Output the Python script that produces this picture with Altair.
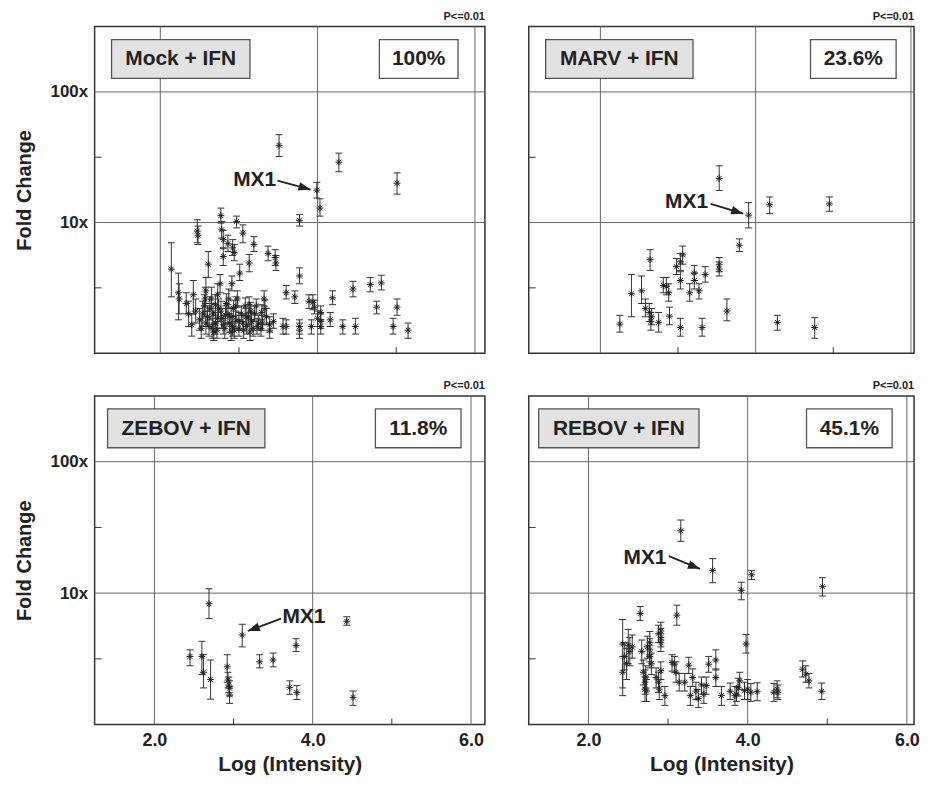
import altair as alt
import pandas as pd

FONT = "Liberation Sans"
DARK = "#222222"
GRID = "#666666"

# ---------------- data ----------------
# Mock + IFN
mock_x = [3.51, 4.27, 5.01, 3.99, 4.03, 3.77, 2.77, 2.97, 3.05, 2.47, 2.48, 2.78, 2.80, 3.19, 2.92, 2.94,
          2.86, 2.80, 3.37, 3.46, 3.47, 3.13, 2.61, 3.01, 3.77, 2.91, 2.14, 2.23, 2.24, 2.33, 2.42, 3.60,
          3.71, 3.89, 3.94, 3.96, 4.04, 4.00, 4.16, 4.19, 4.45, 4.67, 4.81, 4.75, 5.01, 4.96, 5.15, 4.48,
          4.32, 4.04, 4.04, 3.92, 3.77, 3.77, 3.56, 3.60, 3.39, 3.39, 3.32, 3.22, 3.13, 3.29, 3.16,
          2.45, 2.50, 2.52, 2.56, 2.60, 2.62, 2.65, 2.67, 2.70, 2.72, 2.74, 2.76, 2.78, 2.82, 2.84, 2.86,
          2.88, 2.90, 2.93, 2.96, 2.98, 3.00, 3.03, 3.05, 3.08, 3.10, 3.12, 3.18, 3.20, 3.25, 3.28, 3.35,
          3.44, 2.58, 2.68, 2.94, 3.14,
          2.36, 2.40, 2.54, 2.58, 2.63, 2.66, 2.70, 2.73, 2.77, 2.80, 2.83, 2.87, 2.90, 2.92, 2.96, 3.00,
          3.06, 3.09, 3.15, 3.23, 3.30, 3.33, 2.57, 2.73]
mock_y = [39, 29, 20, 17.7, 12.9, 10.4, 11.3, 10.2, 8.3, 8.6, 8.0, 8.8, 7.4, 6.8, 6.4, 5.9,
          6.9, 5.5, 5.8, 5.4, 4.9, 4.9, 4.8, 4.1, 3.9, 3.4, 4.4, 2.9, 2.6, 2.4, 2.8, 2.9,
          2.7, 2.5, 2.45, 2.25, 2.05, 1.85, 1.8, 2.65, 3.1, 3.35, 3.45, 2.25, 2.25, 1.6, 1.5, 1.6,
          1.6, 1.6, 1.75, 1.6, 1.6, 1.5, 1.6, 1.6, 1.65, 1.5, 2.6, 2.3, 2.35, 2.05, 1.75,
          2.1, 1.8, 1.55, 2.3, 1.9, 1.6, 2.6, 2.0, 1.7, 1.5, 2.2, 3.4, 1.85, 1.55, 2.4, 2.0,
          1.7, 1.45, 2.2, 1.8, 2.6, 1.55, 2.0, 1.7, 2.3, 1.6, 1.9, 1.55, 2.0, 1.7, 1.55, 1.9,
          1.75, 3.0, 1.45, 1.5, 1.45,
          2.0, 1.65, 2.0, 1.7, 2.2, 1.55, 2.35, 1.85, 2.1, 1.65, 1.95, 2.6, 1.9, 1.6, 2.3, 1.75,
          1.5, 1.9, 2.1, 1.6, 1.7, 2.2, 2.6, 2.8]
mock_lo = [32, 24.5, 16.5, 15.4, 11.2, 9.4, 9.9, 9.1, 7.0, 7.0, 6.8, 7.6, 6.3, 6.0, 5.6, 5.1,
           6.0, 4.7, 5.1, 4.7, 4.3, 4.2, 3.8, 3.6, 3.4, 3.0, 2.7, 1.8, 2.0, 2.0, 2.0, 2.6,
           2.4, 2.2, 2.15, 2.0, 1.8, 1.6, 1.6, 2.35, 2.7, 2.95, 3.05, 2.0, 1.95, 1.4, 1.3, 1.4,
           1.4, 1.4, 1.55, 1.4, 1.4, 1.3, 1.4, 1.4, 1.45, 1.3, 2.3, 2.0, 2.05, 1.8, 1.5,
           1.7, 1.5, 1.3, 1.9, 1.6, 1.35, 2.1, 1.65, 1.4, 1.3, 1.85, 2.9, 1.55, 1.3, 2.0, 1.7,
           1.45, 1.25, 1.9, 1.55, 2.25, 1.35, 1.75, 1.5, 2.0, 1.4, 1.65, 1.35, 1.75, 1.5, 1.35, 1.65,
           1.55, 2.4, 1.25, 1.3, 1.25,
           1.6, 1.35, 1.6, 1.4, 1.8, 1.3, 1.95, 1.55, 1.75, 1.4, 1.65, 2.2, 1.6, 1.35, 1.95, 1.5,
           1.3, 1.65, 1.8, 1.4, 1.5, 1.9, 2.1, 2.3]
mock_hi = [47, 34, 24, 20.3, 15.2, 11.5, 12.9, 11.2, 9.6, 10.5, 9.4, 10.2, 8.7, 7.8, 7.4, 6.8,
           8.0, 6.4, 6.6, 6.2, 5.6, 5.7, 6.0, 4.8, 4.5, 3.9, 7.0, 4.1, 3.4, 2.9, 3.6, 3.3,
           3.0, 2.8, 2.8, 2.55, 2.3, 2.1, 2.05, 3.0, 3.55, 3.8, 3.95, 2.5, 2.6, 1.85, 1.7, 1.85,
           1.8, 1.8, 2.0, 1.8, 1.8, 1.7, 1.85, 1.8, 1.9, 1.7, 3.0, 2.6, 2.7, 2.35, 2.0,
           2.6, 2.2, 1.85, 2.8, 2.3, 1.9, 3.2, 2.4, 2.05, 1.75, 2.6, 4.0, 2.2, 1.85, 2.85, 2.35,
           2.0, 1.7, 2.55, 2.1, 3.0, 1.8, 2.3, 1.95, 2.65, 1.85, 2.2, 1.8, 2.3, 1.95, 1.8, 2.2,
           2.0, 3.8, 1.7, 1.75, 1.7,
           2.5, 2.0, 2.5, 2.1, 2.7, 1.85, 2.8, 2.2, 2.5, 1.95, 2.3, 3.1, 2.25, 1.9, 2.7, 2.05,
           1.75, 2.2, 2.45, 1.85, 1.95, 2.55, 3.2, 3.4]

# MARV + IFN
marv_x = [3.53, 3.91, 4.18, 4.95, 3.79, 2.64, 3.06, 3.03, 2.98, 3.53, 3.53, 3.21, 3.35, 3.21, 3.03, 2.81,
          2.85, 2.88, 3.15, 3.27, 2.40, 2.53, 2.58, 2.63, 2.66, 2.65, 2.75, 2.89, 3.63, 2.25, 3.03, 3.31,
          4.28, 4.76]
marv_y = [21.8, 11.4, 13.7, 13.9, 6.7, 5.2, 5.65, 5.0, 4.6, 4.75, 4.4, 4.1, 4.0, 3.6, 3.6, 3.3,
          3.25, 2.9, 2.9, 3.0, 2.85, 3.0, 2.2, 2.05, 1.9, 1.75, 1.72, 1.92, 2.1, 1.67, 1.57, 1.57,
          1.72, 1.57]
marv_lo = [17.6, 9.1, 11.7, 12.2, 6.0, 4.3, 4.8, 4.3, 4.0, 4.2, 3.9, 3.6, 3.5, 3.1, 3.1, 2.9,
           2.8, 2.5, 2.5, 2.6, 1.9, 2.4, 1.9, 1.75, 1.65, 1.5, 1.45, 1.65, 1.77, 1.45, 1.35, 1.35,
           1.5, 1.3]
marv_hi = [27.2, 14.2, 15.7, 15.7, 7.5, 6.2, 6.6, 5.8, 5.3, 5.4, 5.0, 4.7, 4.6, 4.1, 4.2, 3.8,
           3.8, 3.4, 3.4, 3.4, 4.0, 3.9, 2.6, 2.4, 2.2, 2.05, 2.05, 2.25, 2.6, 1.95, 1.85, 1.85,
           1.95, 1.87]

# ZEBOV + IFN
zebov_x = [2.69, 3.11, 4.43, 3.79, 2.45, 2.60, 2.62, 2.71, 3.33, 3.50, 2.92, 2.93, 2.94, 2.95, 2.95,
           3.71, 3.80, 4.51]
zebov_y = [8.3, 4.8, 6.1, 4.0, 3.3, 3.3, 2.5, 2.2, 3.0, 3.1, 2.75, 2.18, 2.0, 1.89, 1.68,
           1.92, 1.75, 1.61]
zebov_lo = [6.4, 3.9, 5.7, 3.6, 2.8, 2.4, 1.9, 1.56, 2.7, 2.75, 2.1, 1.9, 1.75, 1.65, 1.45,
            1.7, 1.55, 1.4]
zebov_hi = [10.8, 5.8, 6.6, 4.5, 3.7, 4.3, 3.4, 3.1, 3.4, 3.5, 3.4, 2.5, 2.3, 2.15, 1.95,
            2.15, 1.98, 1.8]

# REBOV + IFN
rebov_x = [3.16, 3.56, 4.05, 3.92, 4.94, 2.65, 3.11, 3.98, 2.43, 2.43, 2.50, 2.52, 2.67, 2.77, 2.77,
           2.77, 2.91, 2.91, 2.91, 2.69, 2.71, 2.71, 2.73, 2.85, 2.88, 2.89, 2.91, 2.96, 3.05, 3.08,
           3.14, 3.21, 3.26, 3.31, 3.28, 3.38, 3.45, 3.48, 3.51, 3.60, 3.60, 3.67, 3.78, 3.84, 3.88,
           3.90, 3.96, 4.00, 4.04, 4.12, 4.33, 4.37, 4.69, 4.73, 4.77, 4.93,
           2.45, 2.55, 2.74, 2.79, 2.72, 3.10, 3.35, 3.42, 3.86, 4.38, 2.88, 2.48]
rebov_y = [29.8, 14.9, 13.8, 10.5, 11.2, 7.0, 6.8, 4.1, 4.1, 2.5, 4.0, 3.6, 3.6, 4.2, 3.7,
           3.3, 5.15, 4.6, 4.2, 2.5, 2.1, 1.86, 1.8, 2.28, 2.1, 1.86, 2.57, 1.66, 2.96, 2.88,
           2.1, 2.1, 2.83, 2.28, 1.66, 1.58, 1.7, 1.98, 2.88, 3.1, 2.28, 1.66, 1.79, 1.66, 1.92,
           2.15, 1.81, 1.86, 1.76, 1.78, 1.76, 1.86, 2.64, 2.42, 2.15, 1.79,
           3.3, 3.9, 3.9, 2.9, 2.3, 2.5, 1.8, 2.0, 1.7, 1.75, 4.9, 2.9]
rebov_lo = [24.8, 12.0, 12.7, 8.9, 9.5, 6.2, 5.7, 3.5, 1.66, 1.9, 2.9, 2.8, 2.9, 3.4, 3.0,
            2.7, 4.4, 3.9, 3.6, 2.0, 1.7, 1.5, 1.5, 1.9, 1.75, 1.55, 2.2, 1.4, 2.55, 2.5,
            1.8, 1.8, 2.45, 1.95, 1.4, 1.35, 1.45, 1.7, 2.5, 2.6, 1.95, 1.4, 1.55, 1.4, 1.65,
            1.85, 1.55, 1.55, 1.5, 1.52, 1.5, 1.6, 2.3, 2.1, 1.9, 1.55,
            2.6, 3.2, 3.2, 2.4, 1.9, 2.1, 1.55, 1.7, 1.5, 1.55, 4.2, 2.2]
rebov_hi = [36, 18.3, 14.9, 12.1, 13.1, 7.9, 8.1, 4.85, 6.3, 3.3, 5.3, 4.6, 4.4, 5.1, 4.5,
            4.0, 6.0, 5.4, 4.9, 3.1, 2.6, 2.3, 2.2, 2.7, 2.5, 2.2, 3.0, 1.95, 3.4, 3.3,
            2.45, 2.45, 3.25, 2.65, 1.95, 1.85, 2.0, 2.3, 3.3, 3.7, 2.65, 1.95, 2.07, 1.95, 2.25,
            2.5, 2.1, 2.2, 2.05, 2.08, 2.05, 2.15, 3.05, 2.8, 2.45, 2.07,
            4.2, 4.8, 4.7, 3.5, 2.8, 3.0, 2.1, 2.3, 1.95, 2.0, 5.7, 3.8]

labels = ["Mock + IFN", "MARV + IFN", "ZEBOV + IFN", "REBOV + IFN"]
percents = ["100%", "23.6%", "11.8%", "45.1%"]
p_text = "P<=0.01"

# MX1 annotation: label position and arrow (start -> end), in data units
mx1_label = [(3.20, 21.3), (3.11, 14.3), (3.89, 6.6), (2.71, 18.5)]
mx1_arrow = [(3.49, 20.9, 3.91, 17.9), (3.42, 13.9, 3.84, 11.7),
             (3.60, 6.4, 3.18, 5.15), (3.01, 19.1, 3.40, 15.3)]
arrow_angle = [15, 17, 160, 21]

grid_x = [2.0, 4.0, 6.0]
grid_y = [10, 100]
minor_x = [3.0, 5.0]
minor_y = [10 ** 0.5, 10 ** 1.5]
x_label_ticks = [2.0, 4.0, 6.0]
y_label_ticks = [10, 100]
Y_DOMAIN = [1, 10 ** 2.5]

ASTERISK = "M-1,0L1,0M0,-1L0,1M-0.7,-0.7L0.7,0.7M-0.7,0.7L0.7,-0.7"
ARROWHEAD = "M0,0L-2.2,-0.8L-2.2,0.8Z"

panel_cfg = [
    dict(w=392, h=328, xdom=[1.165, 6.127], box=(17, 156), pbox=(286, 365)),
    dict(w=387, h=328, xdom=[1.077, 6.04], box=(17, 165), pbox=(283, 369)),
    dict(w=392, h=330, xdom=[1.245, 6.176], box=(13, 171), pbox=(282, 368)),
    dict(w=387, h=330, xdom=[1.25, 6.09], box=(10, 171), pbox=(279, 365)),
]


def panel(i, xs_, ys_, los, his, left, bottom):
    cfg = panel_cfg[i]
    W, H = cfg["w"], cfg["h"]
    xs = alt.Scale(domain=cfg["xdom"], nice=False, zero=False)
    ys = alt.Scale(type="log", domain=Y_DOMAIN, nice=False)
    if bottom:
        xaxis = alt.Axis(values=x_label_ticks, format=".1f", title="Log (Intensity)", grid=False,
                         ticks=False, domain=False, labelFont=FONT, labelFontSize=18,
                         labelFontWeight="bold", labelColor=DARK, labelPadding=7,
                         titleFont=FONT, titleFontSize=21, titleFontWeight="bold",
                         titleColor=DARK, titlePadding=4)
    else:
        xaxis = None
    if left:
        yaxis = alt.Axis(values=y_label_ticks, labelExpr="datum.value + 'x'", title="Fold Change",
                         grid=False, ticks=False, domain=False, labelFont=FONT, labelFontSize=17,
                         labelFontWeight="bold", labelColor=DARK, labelPadding=7,
                         titleFont=FONT, titleFontSize=20, titleFontWeight="bold",
                         titleColor=DARK, titlePadding=16)
    else:
        yaxis = None

    X = alt.X("x:Q", scale=xs, axis=xaxis)
    Y = alt.Y("y:Q", scale=ys, axis=yaxis)

    pts = pd.DataFrame({"x": xs_, "y": ys_, "lo": los, "hi": his})

    vgrid = alt.Chart(pd.DataFrame({"x": grid_x})).mark_rule(color=GRID, strokeWidth=1).encode(x=X)
    hgrid = alt.Chart(pd.DataFrame({"y": grid_y})).mark_rule(color=GRID, strokeWidth=1).encode(y=Y)
    xt = alt.Chart(pd.DataFrame({"x": minor_x})).mark_rule(color="#333", strokeWidth=1).encode(
        x=X, y=alt.value(H), y2=alt.value(H - 6))
    yt = alt.Chart(pd.DataFrame({"y": minor_y})).mark_rule(color="#333", strokeWidth=1).encode(
        y=Y, x=alt.value(0), x2=alt.value(7))

    base = alt.Chart(pts)
    ecol = "#333333"
    bars = base.mark_rule(color=ecol, strokeWidth=1).encode(
        x=X, y=alt.Y("lo:Q", scale=ys, axis=yaxis), y2="hi:Q")
    cap_lo = base.mark_tick(orient="horizontal", size=7, thickness=1, color=ecol, opacity=1).encode(
        x=X, y=alt.Y("lo:Q", scale=ys, axis=yaxis))
    cap_hi = base.mark_tick(orient="horizontal", size=7, thickness=1, color=ecol, opacity=1).encode(
        x=X, y=alt.Y("hi:Q", scale=ys, axis=yaxis))
    stars = base.mark_point(shape=ASTERISK, size=48, filled=False, strokeWidth=1,
                            color=DARK, opacity=1).encode(x=X, y=Y)

    b0, b1 = cfg["box"]
    p0, p1 = cfg["pbox"]
    one = pd.DataFrame({"t": [labels[i]], "p": [percents[i]], "s": [p_text]})
    lbox = alt.Chart(one).mark_rect(fill="#e2e2e2", stroke="#555555", strokeWidth=1.3).encode(
        x=alt.value(b0), x2=alt.value(b1), y=alt.value(13), y2=alt.value(52))
    ltext = alt.Chart(one).mark_text(font=FONT, fontSize=21, fontWeight="bold", color=DARK).encode(
        x=alt.value((b0 + b1) / 2), y=alt.value(33), text="t:N")
    pbox = alt.Chart(one).mark_rect(fill="white", stroke="#555555", strokeWidth=1.3).encode(
        x=alt.value(p0), x2=alt.value(p1), y=alt.value(13), y2=alt.value(52))
    ptext = alt.Chart(one).mark_text(font=FONT, fontSize=21, fontWeight="bold", color=DARK).encode(
        x=alt.value((p0 + p1) / 2), y=alt.value(33), text="p:N")
    ptop = alt.Chart(one).mark_text(font=FONT, fontSize=11, fontWeight="bold", color=DARK,
                                    align="right").encode(
        x=alt.value(W), y=alt.value(-10), text="s:N")

    lx, ly = mx1_label[i]
    ax0, ay0, ax1, ay1 = mx1_arrow[i]
    mtext = alt.Chart(pd.DataFrame({"x": [lx], "y": [ly], "t": ["MX1"]})).mark_text(
        font=FONT, fontSize=21, fontWeight="bold", color=DARK).encode(x=X, y=Y, text="t:N")
    arr = alt.Chart(pd.DataFrame({"x": [ax0], "y": [ay0], "x2": [ax1], "y2": [ay1]})).mark_rule(
        color=DARK, strokeWidth=1.8).encode(x=X, y=Y, x2="x2:Q", y2="y2:Q")
    head = alt.Chart(pd.DataFrame({"x": [ax1], "y": [ay1]})).mark_point(
        shape=ARROWHEAD, size=120, filled=True, color=DARK, opacity=1,
        angle=arrow_angle[i]).encode(x=X, y=Y)

    return alt.layer(vgrid, hgrid, xt, yt, bars, cap_lo, cap_hi, stars,
                     lbox, ltext, pbox, ptext, ptop, mtext, arr, head).properties(width=W, height=H)


p1 = panel(0, mock_x, mock_y, mock_lo, mock_hi, True, False)
p2 = panel(1, marv_x, marv_y, marv_lo, marv_hi, False, False)
p3 = panel(2, zebov_x, zebov_y, zebov_lo, zebov_hi, True, True)
p4 = panel(3, rebov_x, rebov_y, rebov_lo, rebov_hi, False, True)

row1 = alt.hconcat(p1, p2, spacing=40)
row2 = alt.hconcat(p3, p4, spacing=40)
chart = alt.vconcat(row1, row2, spacing=24).configure_view(
    stroke="#333333", strokeWidth=1.5
).properties(
    padding={"left": 5, "top": 0, "right": 5, "bottom": 2},
    background="white",
)

chart.save("out.html", embed_options={"renderer": "svg", "actions": False})
